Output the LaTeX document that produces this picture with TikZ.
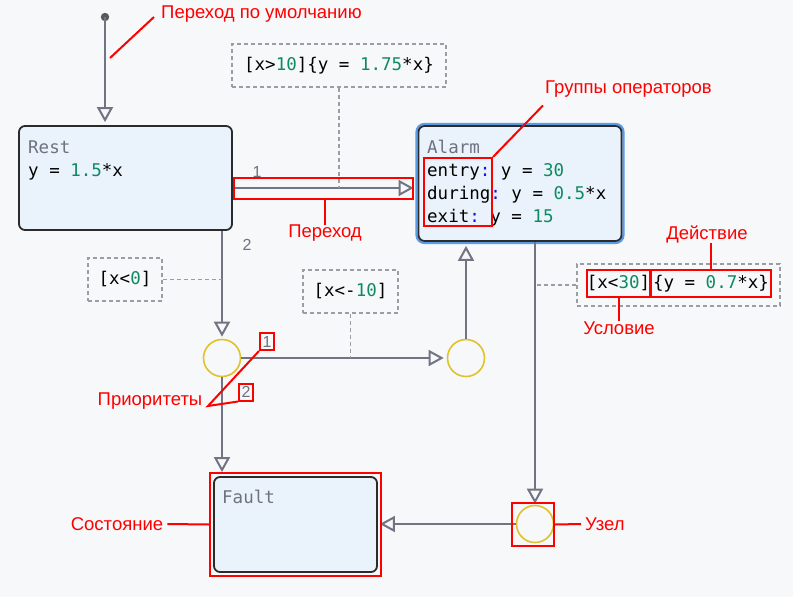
\documentclass[tikz,border=0pt]{standalone}
\usepackage{fontspec}
\setmainfont{Liberation Sans}
\newfontfamily\codefont{DejaVu Sans Mono}
\usetikzlibrary{arrows.meta}
\definecolor{bgcol}{HTML}{F7F8FA}
\definecolor{statefill}{HTML}{EAF3FB}
\definecolor{statebd}{HTML}{2B2B2B}
\definecolor{conncol}{HTML}{717483}
\definecolor{juncol}{HTML}{E0C22A}
\definecolor{annred}{HTML}{FF0000}
\definecolor{codegreen}{HTML}{0E8A62}
\definecolor{kwblue}{HTML}{1010F0}
\definecolor{glowcol}{HTML}{5A9BE6}
\definecolor{dashcol}{HTML}{9C9DA3}
\definecolor{namegray}{HTML}{6E7180}
\newcommand\nm[1]{\textcolor{codegreen}{#1}}
\newcommand\cl{\textcolor{kwblue}{:}}
\frenchspacing
\begin{document}
\begin{tikzpicture}[x=1pt,y=-1pt,
  conn/.style={draw=conncol, line width=2pt},
  trans/.style={conn, -{Triangle[open,length=15pt,width=16pt,line width=2pt]}},
  statebox/.style={draw=statebd, fill=statefill, line width=1.8pt, rounded corners=6pt, inner sep=0pt},
  codetext/.style={font=\codefont\fontsize{17.5}{21}\selectfont, inner sep=0pt, anchor=base west},
  statename/.style={codetext, text=namegray},
  dlabel/.style={draw=dashcol, line width=1.1pt, dash pattern=on 4pt off 3pt, inner sep=0pt,
     font=\codefont\fontsize{17.5}{21}\selectfont},
  dconn/.style={draw=dashcol, line width=1.1pt, dash pattern=on 4pt off 3pt},
  junc/.style={circle, draw=juncol, line width=1.6pt, minimum size=37pt, inner sep=0pt},
  prio/.style={font=\fontsize{16}{18}\selectfont, text=namegray, inner sep=0pt},
  annbox/.style={draw=annred, line width=2pt, inner sep=0pt},
  anntext/.style={font=\fontsize{18.5}{21}\selectfont, text=annred, inner sep=0pt},
  annline/.style={draw=annred, line width=2pt}
]
\fill[bgcol] (0,0) rectangle (793,597);
\useasboundingbox (0,0) rectangle (793,597);

% ---------- states ----------
\node[statebox, minimum width=213pt, minimum height=104pt] (rest) at (125.5,178) {};
\node[statename] (restname) at (28,153) {Rest};
\node[codetext] (restbody) at (28,176) {y = \nm{1.5}*x};

\node[draw=glowcol, line width=2.2pt, rounded corners=8pt, minimum width=207pt, minimum height=119pt, inner sep=0pt] (alarmglow) at (520,183.5) {};
\node[statebox, minimum width=203pt, minimum height=115pt] (alarm) at (520,183.5) {};
\node[statename] (alarmname) at (427,153) {Alarm};
\node[codetext] (alarmentry) at (427,176) {entry\cl{} y = \nm{30}};
\node[codetext] (alarmduring) at (427,199) {during\cl{} y = \nm{0.5}*x};
\node[codetext] (alarmexit) at (427,222) {exit\cl{} y = \nm{15}};

\node[statebox, minimum width=163pt, minimum height=95pt] (fault) at (295.5,524.5) {};
\node[statename] (faultname) at (222,503) {Fault};

% ---------- junctions ----------
\node[junc] (j1) at (222,358) {};
\node[junc] (j2) at (466,358) {};
\node[junc] (j3) at (535,524) {};

% ---------- default transition ----------
\fill[fill=black!65] (105,17) circle (4.2pt);
\coordinate (init) at (105,17);
\draw[trans, shorten >=3pt] (init) -- (init |- rest.north);

% ---------- transitions ----------
\coordinate (t1) at (325,188);
\draw[trans, shorten >=4pt] (rest.east |- t1) -- (alarm.west |- t1);
\draw[trans, shorten >=2pt] (j1 |- rest.south) -- (j1.north);
\draw[trans, shorten >=3pt] (j1.east) -- (j2.west);
\draw[trans, shorten >=4pt] (j2.north) -- (j2 |- alarm.south);
\draw[trans, shorten >=4pt] (j1.south) -- (j1 |- fault.north);
\draw[trans, shorten >=1pt] (j3 |- alarm.south) -- (j3.north);
\draw[trans, shorten >=2pt] (j3.west) -- (fault.east |- j3);

% transition order labels
\node[prio] (n1) at (257,172) {1};
\node[prio] (n2) at (247,245) {2};

% ---------- dashed transition labels ----------
\node[dlabel, minimum width=214pt, minimum height=43pt] (l1) at (339,65.5) {[x>\nm{10}]\{y = \nm{1.75}*x\}};
\draw[dconn] (l1.south) -- (l1.south |- t1);

\node[dlabel, minimum width=74pt, minimum height=43pt] (l2) at (125,279.5) {[x<\nm{0}]};
\draw[dconn] (l2.east) -- (l2.east -| j1);

\node[dlabel, minimum width=95pt, minimum height=43pt] (l3) at (350.5,291.5) {[x<-\nm{10}]};
\draw[dconn] (l3.south) -- (l3.south |- j1);

\node[dlabel, minimum width=203pt, minimum height=42pt] (l4) at (678.5,285) {};
\draw[dconn] (l4.west) -- (l4.west -| j3);
\node[annbox, minimum width=63pt, minimum height=27pt, font=\codefont\fontsize{17.5}{21}\selectfont] (cond) at (618.5,283.5) {[x<\nm{30}]};
\node[annbox, minimum width=120pt, minimum height=27pt, font=\codefont\fontsize{17.5}{21}\selectfont] (act) at (711,283.5) {\{y = \nm{0.7}*x\}};

% ---------- annotations ----------
\node[anntext, anchor=west] (adef) at (161,14) {Переход по умолчанию};
\coordinate (adefp) at (110,58);
\draw[annline] (adefp) -- ([shift={(-7pt,-3pt)}]adef.west);

\node[annbox, minimum width=179pt, minimum height=21pt] (tbox) at (323.5,188.5) {};
\node[anntext] (atrans) at (325,233) {Переход};
\draw[annline] (tbox.south -| atrans) -- (atrans.north);

\node[annbox, minimum width=68pt, minimum height=68pt] (kwbox) at (458,192) {};
\node[anntext, anchor=west] (agroup) at (545,89) {Группы операторов};
\draw[annline] (kwbox.north east) -- ([shift={(-2pt,-8pt)}]agroup.south west);

\node[anntext] (aact) at (707,234) {Действие};
\draw[annline] (aact.south -| act.north) -- (act.north);
\node[anntext] (acond) at (619,328) {Условие};
\draw[annline] (cond.south) -- (acond.north -| cond.south);

\node[annbox, minimum width=14pt, minimum height=17pt] (p1) at (267,341.5) {};
\node[prio] (p1t) at (p1) {1};
\node[annbox, minimum width=14pt, minimum height=17pt] (p2) at (246,392) {};
\node[prio] (p2t) at (p2) {2};
\node[anntext] (aprio) at (150,401) {Приоритеты};
\coordinate (aprioc) at (208,406);
\draw[annline] (p1.south west) -- (aprioc) -- (p2.south west);

\node[annbox, minimum width=171pt, minimum height=103pt] (fbox) at (295.5,524.5) {};
\node[anntext] (astate) at (117,524) {Состояние};
\draw[annline] (astate.east) ++(4pt,0) -- (fbox.west);

\node[annbox, minimum width=42pt, minimum height=43pt] (jbox) at (533,524.5) {};
\node[anntext, anchor=west] (ajunc) at (585,524) {Узел};
\draw[annline] (jbox.east) -- ([xshift=-4pt]ajunc.west);
\end{tikzpicture}
\end{document}
